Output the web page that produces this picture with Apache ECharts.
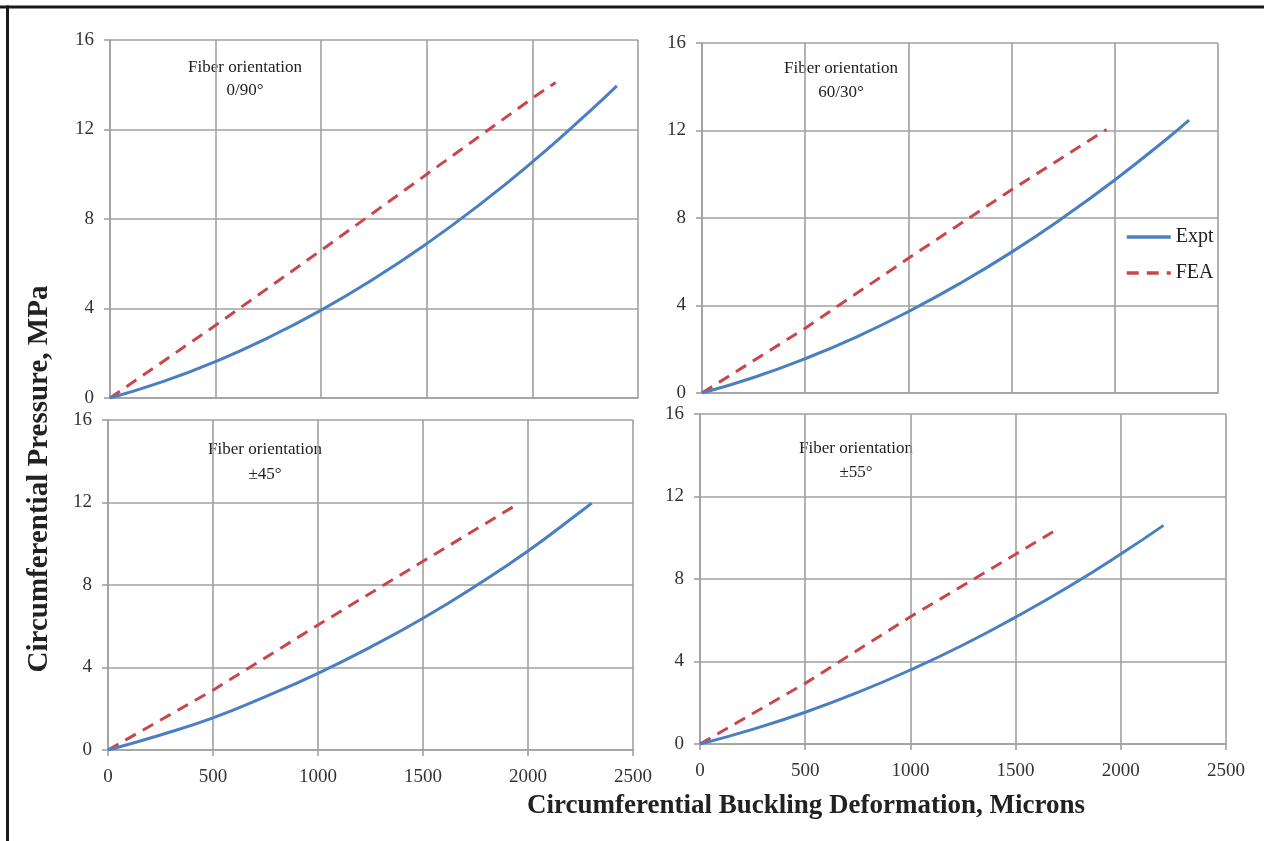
<!DOCTYPE html>
<html>
<head>
<meta charset="utf-8">
<script src="https://cdn.jsdelivr.net/npm/echarts@6/dist/echarts.min.js"></script>
<style>html,body{margin:0;padding:0;background:#fff}#c{width:1264px;height:841px}</style>
</head>
<body>
<div id="c"></div>
<script>
// ---- data ----
const panelLabels = ['0/90°', '60/30°', '±45°', '±55°'];
const seriesNames = ['Expt', 'FEA'];
const xTickValues = [0, 500, 1000, 1500, 2000, 2500];
const yTickValues = [0, 4, 8, 12, 16];

// 0/90°
const expt090X = [0, 250, 500, 750, 1000, 1250, 1500, 1750, 2000, 2250, 2400];
const expt090Y = [0, 0.73, 1.63, 2.70, 3.93, 5.33, 6.90, 8.64, 10.55, 12.63, 13.95];
const fea090X = [0, 500, 1000, 1500, 2000, 2110];
const fea090Y = [0, 3.25, 6.6, 10.0, 13.4, 14.1];
// 60/30°
const expt6030X = [0, 250, 500, 750, 1000, 1250, 1500, 1750, 2000, 2250, 2360];
const expt6030Y = [0, 0.71, 1.57, 2.57, 3.72, 5.01, 6.44, 8.02, 9.74, 11.6, 12.47];
const fea6030X = [0, 500, 1000, 1500, 1960];
const fea6030Y = [0, 2.96, 6.16, 9.29, 12.05];
// ±45°
const expt45X = [0, 250, 500, 750, 1000, 1250, 1500, 1750, 2000, 2250, 2303];
const expt45Y = [0, 0.73, 1.56, 2.59, 3.72, 4.99, 6.39, 7.95, 9.65, 11.55, 11.97];
const fea45X = [0, 500, 1000, 1500, 1957];
const fea45Y = [0, 2.9, 6.06, 9.15, 11.96];
// ±55°
const expt55X = [0, 250, 500, 750, 1000, 1250, 1500, 1750, 2000, 2203];
const expt55Y = [0, 0.71, 1.54, 2.50, 3.59, 4.80, 6.15, 7.61, 9.21, 10.6];
const fea55X = [0, 500, 1000, 1500, 1678];
const fea55Y = [0, 2.94, 6.17, 9.2, 10.29];

const panelData = [
  [expt090X, expt090Y, fea090X, fea090Y],
  [expt6030X, expt6030Y, fea6030X, fea6030Y],
  [expt45X, expt45Y, fea45X, fea45Y],
  [expt55X, expt55Y, fea55X, fea55Y]
];

// ---- layout / style ----
const grids = [
  {left: 110, top: 40, width: 528, height: 358},
  {left: 702, top: 43, width: 516, height: 350},
  {left: 108, top: 420, width: 525, height: 330},
  {left: 700, top: 414, width: 526, height: 330}
];
const annoPos = [[245, 68, 91], [841, 69, 93], [265, 450, 475], [856, 449, 473]];
const gridColor = '#a0a0a0';
const blue = '#4a7fc1';
const red = '#c9474a';
const tickFont = {fontFamily: 'Liberation Serif, serif', fontSize: 19, color: '#333'};

const zip = (xs, ys) => xs.map((x, i) => [x, ys[i]]);

const xAxes = [], yAxes = [], series = [];
grids.forEach((g, i) => {
  const bottom = i >= 2;
  xAxes.push({
    type: 'value', gridIndex: i, min: xTickValues[0], max: xTickValues[xTickValues.length - 1],
    interval: xTickValues[1] - xTickValues[0],
    axisLine: {show: true, lineStyle: {color: gridColor, width: 1.6}},
    axisTick: {show: bottom, length: 6, lineStyle: {color: gridColor, width: 1.6}},
    axisLabel: Object.assign({show: bottom, margin: 18, formatter: v => String(v)}, tickFont),
    splitLine: {show: true, lineStyle: {color: gridColor, width: 1.6}}
  });
  yAxes.push({
    type: 'value', gridIndex: i, min: yTickValues[0], max: yTickValues[yTickValues.length - 1],
    interval: yTickValues[1] - yTickValues[0],
    axisLine: {show: true, lineStyle: {color: gridColor, width: 1.6}},
    axisTick: {show: true, length: 6, lineStyle: {color: gridColor, width: 1.6}},
    axisLabel: Object.assign({margin: 16, formatter: v => String(v)}, tickFont),
    splitLine: {show: true, lineStyle: {color: gridColor, width: 1.6}}
  });
  const d = panelData[i];
  series.push({
    name: seriesNames[0], type: 'line', xAxisIndex: i, yAxisIndex: i,
    data: zip(d[0], d[1]), smooth: true, symbol: 'none',
    lineStyle: {color: blue, width: 3}, itemStyle: {color: blue}, z: 3
  });
  series.push({
    name: seriesNames[1], type: 'line', xAxisIndex: i, yAxisIndex: i,
    data: zip(d[2], d[3]), symbol: 'none',
    lineStyle: {color: red, width: 3, type: [12, 8]}, itemStyle: {color: red}, z: 2
  });
});

const serifText = (x, y, text, size, weight, extra) => Object.assign({
  type: 'text', x: x, y: y, silent: true,
  style: {text: text, fill: '#222', font: (weight || 'normal') + ' ' + size + 'px "Liberation Serif", serif',
          textAlign: 'center', textVerticalAlign: 'middle'}
}, extra || {});

const graphics = [
  {type: 'line', shape: {x1: 0, y1: 7, x2: 1264, y2: 7}, style: {stroke: '#1a1a1a', lineWidth: 3}, silent: true},
  {type: 'line', shape: {x1: 7.5, y1: 5.5, x2: 7.5, y2: 841}, style: {stroke: '#1a1a1a', lineWidth: 3}, silent: true},
  serifText(806, 806, 'Circumferential Buckling Deformation, Microns', 27, 'bold'),
  serifText(40, 479, 'Circumferential Pressure, MPa', 29, 'bold', {rotation: Math.PI / 2})
];
annoPos.forEach((p, i) => {
  graphics.push(serifText(p[0], p[1], 'Fiber orientation', 17));
  graphics.push(serifText(p[0], p[2], panelLabels[i], 17));
});

const chart = echarts.init(document.getElementById('c'), null, {renderer: 'canvas'});
chart.setOption({
  animation: false,
  backgroundColor: '#fff',
  grid: grids.map(g => Object.assign({containLabel: false, show: false}, g)),
  xAxis: xAxes,
  yAxis: yAxes,
  legend: {
    data: seriesNames, orient: 'vertical', left: 1120, top: 222,
    itemWidth: 44, itemHeight: 14, itemGap: 16,
    itemStyle: {opacity: 0},
    lineStyle: {width: 3.5},
    textStyle: {fontFamily: 'Liberation Serif, serif', fontSize: 20, lineHeight: 20, color: '#222'}
  },
  series: series,
  graphic: graphics
});
</script>
</body>
</html>
